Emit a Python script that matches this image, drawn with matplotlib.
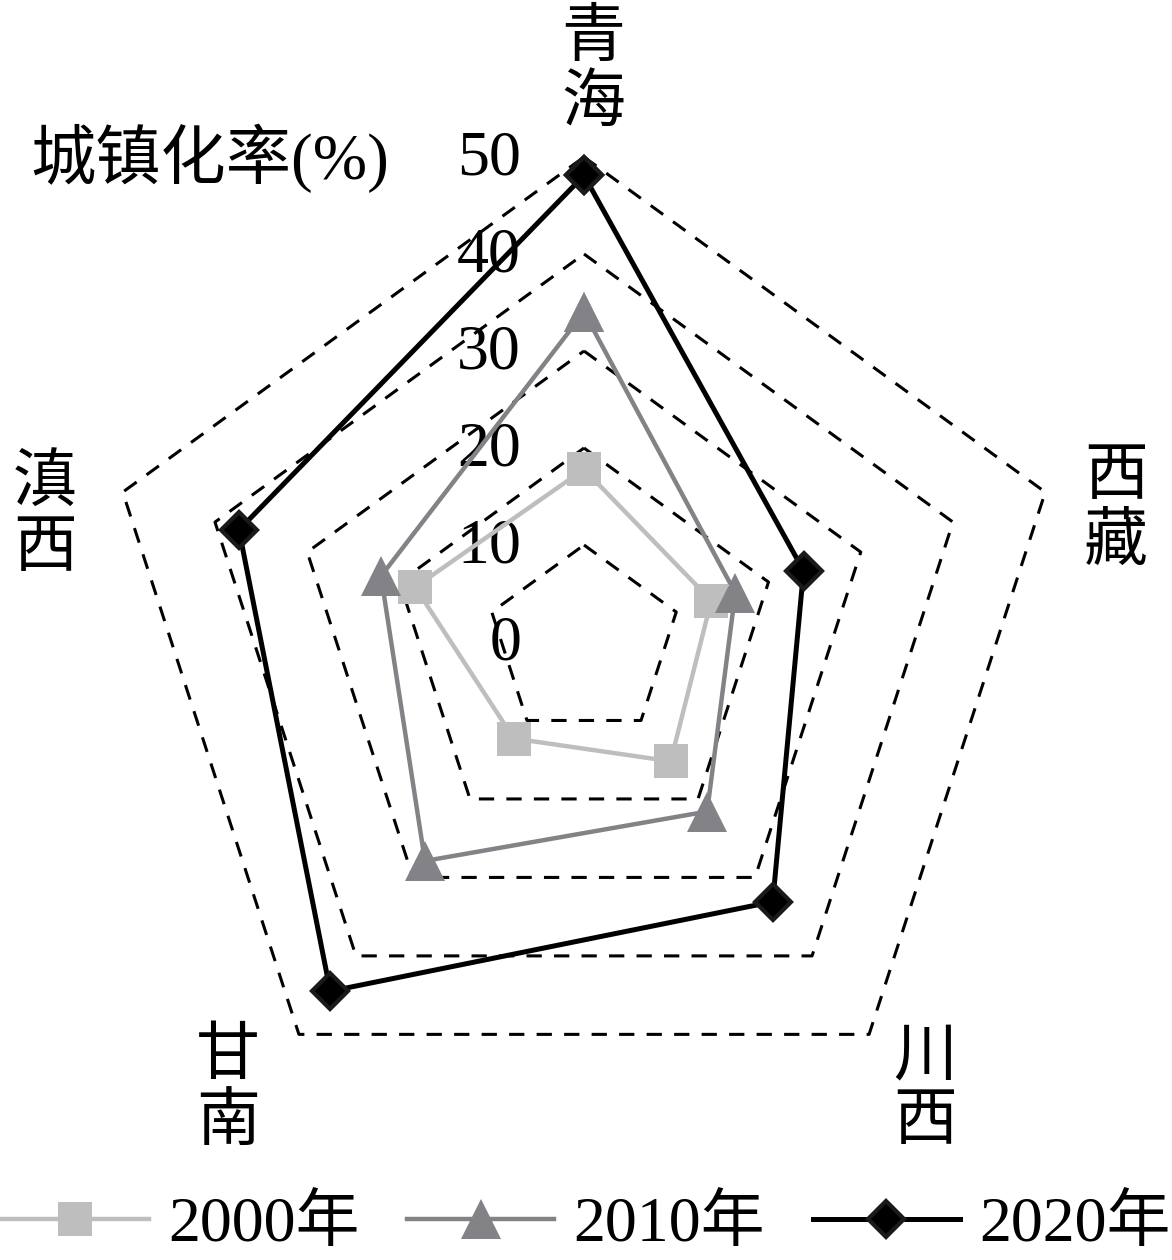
import numpy as np
import matplotlib.pyplot as plt

plt.rcParams['font.family'] = ['Liberation Serif', 'Noto Sans CJK SC']

categories = ['青海', '西藏', '川西', '甘南', '滇西']
rate_2000 = [17.8, 13.8, 15.2, 12.3, 18.3]
rate_2010 = [34.0, 16.4, 21.6, 27.9, 22.0]
rate_2020 = [48.1, 23.8, 33.1, 44.5, 37.4]
ticks = [0, 10, 20, 30, 40, 50]

W, H = 1172, 1260
cx, cy, scale = 584, 642, 9.7   # centre in pixels, pixels per unit

fig = plt.figure(figsize=(W / 100, H / 100), dpi=100)
ax = fig.add_axes([0, 0, 1, 1])
ax.set_xlim(-cx / scale, (W - cx) / scale)
ax.set_ylim((cy - H) / scale, cy / scale)
ax.axis('off')

angles = np.deg2rad(90 - 72 * np.arange(len(categories)))


def to_xy(vals):
    v = np.append(vals, vals[0])
    a = np.append(angles, angles[0])
    return v * np.cos(a), v * np.sin(a)


# dashed pentagon grid
for t in ticks[1:]:
    gx, gy = to_xy([t] * len(categories))
    ax.plot(gx, gy, color='black', lw=2.2, linestyle=(0, (5, 4)), zorder=1)

# tick labels left of the top axis
for t in ticks:
    ax.text((521 - cx) / scale, t - 0.3, str(t), ha='right', va='center',
            fontsize=46, zorder=2)

x, y = to_xy(rate_2000)
ax.plot(x, y, color='#bfbebf', lw=3.2, marker='s', ms=24, mew=0,
        label='2000年', zorder=3)
x, y = to_xy(rate_2010)
ax.plot(x, y, color='#838287', lw=3.2, marker='^', ms=29, mew=0,
        label='2010年', zorder=4)
x, y = to_xy(rate_2020)
ax.plot(x, y, color='black', lw=3.6, marker='D', ms=18, mfc='black',
        mec='#1a1a1a', mew=3, label='2020年', zorder=5)

# category labels, written vertically
label_pos = [(593, 73), (1116, 512), (925, 1092), (228, 1092), (45, 518)]
for name, (px, py) in zip(categories, label_pos):
    fig.text(px / W, 1 - py / H, '\n'.join(name), ha='center', va='center',
             fontsize=46, linespacing=1.15)

fig.text(30 / W, 1 - 158 / H, '城镇化率(%)', ha='left', va='center', fontsize=47)

fig.legend(loc='center', bbox_to_anchor=(0.5, 1 - 1226 / H), ncol=3,
           frameon=False, fontsize=46, handlelength=2.3, handletextpad=0.3,
           columnspacing=0.75, borderpad=0, borderaxespad=0)

fig.savefig('out.png', dpi=100)
